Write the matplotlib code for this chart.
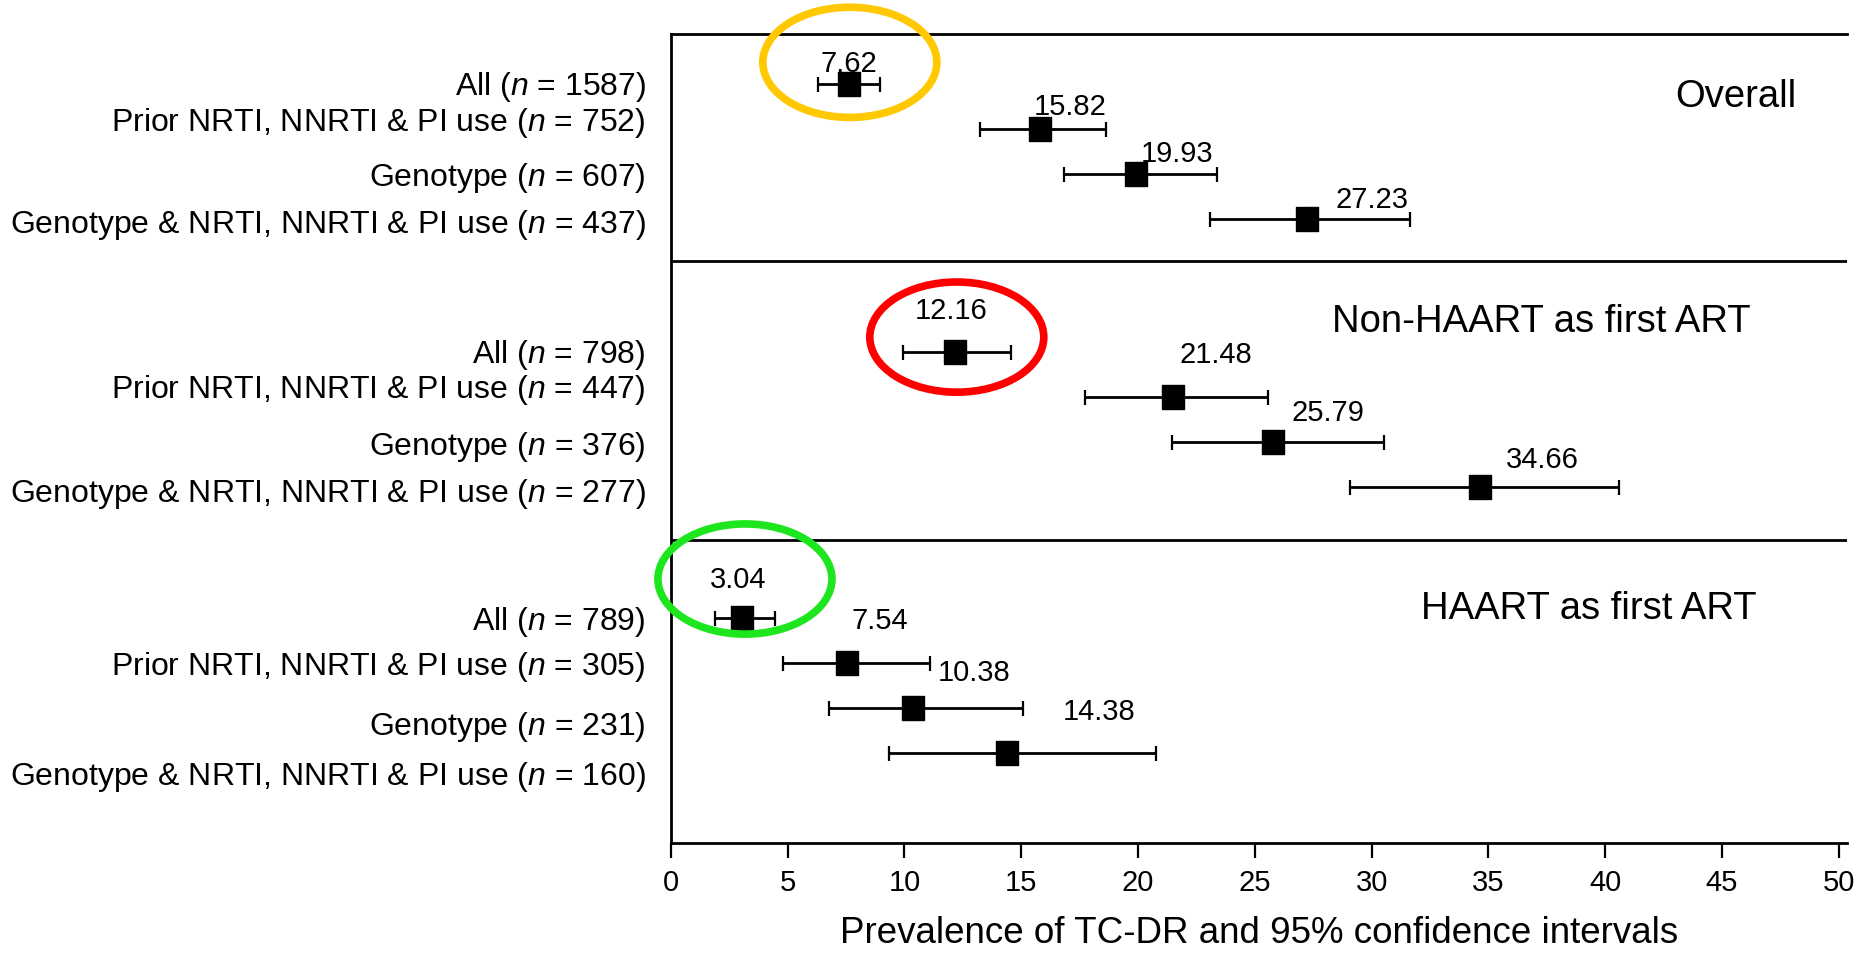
import numpy as np
import matplotlib.pyplot as plt
from matplotlib.patches import Ellipse

plt.rcParams['font.family'] = ['Liberation Sans', 'DejaVu Sans']
plt.rcParams['mathtext.fontset'] = 'custom'
plt.rcParams['mathtext.rm'] = 'Liberation Sans'
plt.rcParams['mathtext.it'] = 'Liberation Sans:italic'

# data
sections = ['Overall', 'Non-HAART as first ART', 'HAART as first ART']
subgroups = ['All', 'Prior NRTI, NNRTI & PI use', 'Genotype',
             'Genotype & NRTI, NNRTI & PI use']
n_overall = [1587, 752, 607, 437]
n_nonhaart = [798, 447, 376, 277]
n_haart = [789, 305, 231, 160]

est_overall = [7.62, 15.82, 19.93, 27.23]
lo_overall = [6.29, 13.23, 16.82, 23.07]
hi_overall = [8.97, 18.62, 23.37, 31.64]

est_nonhaart = [12.16, 21.48, 25.79, 34.66]
lo_nonhaart = [9.93, 17.73, 21.47, 29.07]
hi_nonhaart = [14.58, 25.57, 30.55, 40.58]

est_haart = [3.04, 7.54, 10.38, 14.38]
lo_haart = [1.90, 4.80, 6.75, 9.32]
hi_haart = [4.47, 11.11, 15.07, 20.79]

n_all = [n_overall, n_nonhaart, n_haart]
est_all = [est_overall, est_nonhaart, est_haart]
lo_all = [lo_overall, lo_nonhaart, lo_haart]
hi_all = [hi_overall, hi_nonhaart, hi_haart]

# layout (rows counted downwards)
section_base = [0, 5.96, 11.87]
label_rows = [[-0.07, 0.73, 1.96, 3.0],
              [-0.07, 0.71, 1.98, 3.02],
              [-0.04, 0.96, 2.29, 3.42]]
# value label offsets (x in data units, y in rows)
val_dx = [[0, 1.28, 1.76, 2.78],
          [-0.17, 1.84, 2.36, 2.64],
          [-0.17, 1.41, 2.61, 3.94]]
val_dy = [[-0.55, -0.58, -0.55, -0.51],
          [-1.0, -1.02, -0.73, -0.69],
          [-0.93, -1.02, -0.87, -1.0]]
title_x = [43.0, 28.3, 32.1]
title_dy = [0.18, -0.78, -0.31]
circle_colors = ['#FFC800', '#FF0000', '#1EE61E']
circle_dx = [0.04, 0.08, 0.13]
circle_dy = [-0.49, -0.34, -0.87]

box = [(-0.44, -0.5), (0.44, -0.5), (0.44, 0.5), (-0.44, 0.5), (-0.44, -0.5)]

fig = plt.figure(figsize=(18.59, 9.54), dpi=100)
ax = fig.add_axes([0.3609, 0.1153, 0.6326, 0.8485])

ytick_pos = []
ytick_lab = []
for s in range(3):
    base = section_base[s]
    rows = base + np.arange(4)
    est = np.array(est_all[s])
    lo = np.array(lo_all[s])
    hi = np.array(hi_all[s])
    ax.errorbar(est, rows, xerr=[est - lo, hi - est], fmt='none',
                ecolor='black', elinewidth=2.0, capsize=5.4, capthick=1.6, zorder=3)
    ax.plot(est, rows, linestyle='none', marker=box, markersize=17.5,
            color='black', zorder=4)
    for i in range(4):
        ax.text(est[i] + val_dx[s][i], rows[i] + val_dy[s][i], f'{est[i]:.2f}',
                ha='center', va='center_baseline', fontsize=21)
        ytick_pos.append(base + label_rows[s][i])
        ytick_lab.append(f'{subgroups[i]} ($\\mathit{{n}}$ = {n_all[s][i]})')
    ax.text(title_x[s], base + title_dy[s], sections[s], ha='left',
            va='center_baseline', fontsize=27.5)
    ell = Ellipse((est[0] + circle_dx[s], base + circle_dy[s]), width=7.45, height=2.45,
                  fill=False, edgecolor=circle_colors[s], linewidth=5.5,
                  clip_on=False, zorder=5)
    ax.add_patch(ell)

ax.axhline(3.93, color='black', linewidth=2.0)
ax.axhline(10.13, color='black', linewidth=2.0)

ax.set_xlim(0, 50.35)
ax.set_ylim(16.87, -1.13)
ax.set_xticks(np.arange(0, 51, 5))
ax.set_yticks(ytick_pos)
ax.set_yticklabels(ytick_lab, fontsize=23)
ax.tick_params(axis='y', length=0, pad=18)
ax.tick_params(axis='x', length=10.8, width=1.6, labelsize=21, pad=7)
ax.spines['right'].set_visible(False)
for side in ['top', 'left', 'bottom']:
    ax.spines[side].set_linewidth(2.0)

ax.set_xlabel('Prevalence of TC-DR and 95% confidence intervals', fontsize=26.5, labelpad=14)

fig.savefig('out.png', dpi=100)
